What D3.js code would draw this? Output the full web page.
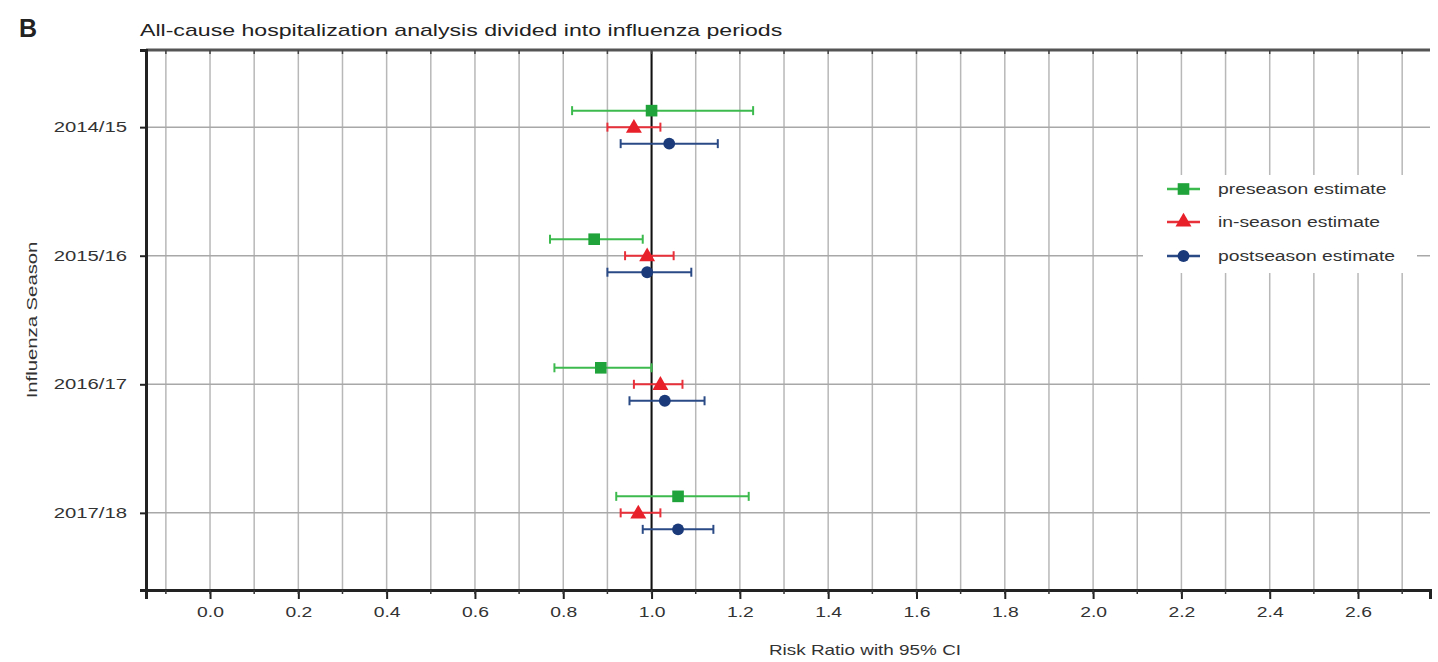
<!DOCTYPE html>
<html>
<head>
<meta charset="utf-8">
<script src="https://cdn.jsdelivr.net/npm/d3@7"></script>
<style>
  html, body { margin: 0; padding: 0; background: #fff; }
  svg { display: block; font-family: "Liberation Sans", Arial, sans-serif; }
</style>
</head>
<body>
<svg id="chart" width="1438" height="662"></svg>
<script>
// Influenza seasons (rows, top to bottom)
const seasons = ["2014/15", "2015/16", "2016/17", "2017/18"];

// Risk ratio point estimates and 95% CI per period
const preseasonEst = [1.00, 0.87, 0.885, 1.06];
const preseasonLo  = [0.82, 0.77, 0.78, 0.92];
const preseasonHi  = [1.23, 0.98, 1.00, 1.22];

const inseasonEst = [0.96, 0.99, 1.02, 0.97];
const inseasonLo  = [0.90, 0.94, 0.96, 0.93];
const inseasonHi  = [1.02, 1.05, 1.07, 1.02];

const postseasonEst = [1.04, 0.99, 1.03, 1.06];
const postseasonLo  = [0.93, 0.90, 0.95, 0.98];
const postseasonHi  = [1.15, 1.09, 1.12, 1.14];

const xTickLabels = ["0.0","0.2","0.4","0.6","0.8","1.0","1.2","1.4","1.6","1.8","2.0","2.2","2.4","2.6"];

const series = [
  { name: "preseason estimate",  est: preseasonEst,  lo: preseasonLo,  hi: preseasonHi,
    line: "#3dba4e", mark: "#1fa33a", shape: d3.symbolSquare,   size: 135, off: -16.5 },
  { name: "in-season estimate",  est: inseasonEst,   lo: inseasonLo,   hi: inseasonHi,
    line: "#e8303a", mark: "#e8202a", shape: d3.symbolTriangle, size: 110, off: 0 },
  { name: "postseason estimate", est: postseasonEst, lo: postseasonLo, hi: postseasonHi,
    line: "#2a4a86", mark: "#1a3a7a", shape: d3.symbolCircle,   size: 110, off: 16.5 }
];

// Wide-set lettering: stretch text along its baseline
function stretch(sel, k) {
  sel.each(function () {
    const t = d3.select(this);
    const x0 = +t.attr("x") || 0;
    const tr = t.attr("transform") || "";
    t.attr("x", x0 / k).attr("transform", `${tr} scale(${k},1)`);
  });
  return sel;
}

const svg = d3.select("#chart");
const L = 146, R = 1430, T = 50, B = 590;

const x = d3.scaleLinear().domain([-0.145, 2.763]).range([L, R]);
const y = d3.scaleLinear().domain([-0.6, 3.6]).range([T, B]);

// Grid: vertical lines every 0.1
const gridVals = d3.range(-1, 28).map(v => v / 10);
svg.append("g").selectAll("line").data(gridVals).join("line")
  .attr("x1", d => x(d)).attr("x2", d => x(d))
  .attr("y1", T).attr("y2", B)
  .attr("stroke", "#b8b8b8").attr("stroke-width", 1.5);

// Horizontal grid lines at each season
svg.append("g").selectAll("line").data(seasons).join("line")
  .attr("x1", L).attr("x2", R)
  .attr("y1", (d, i) => y(i)).attr("y2", (d, i) => y(i))
  .attr("stroke", "#a8a8a8").attr("stroke-width", 1.5);

// Reference line at RR = 1
svg.append("line")
  .attr("x1", x(1)).attr("x2", x(1)).attr("y1", T).attr("y2", B)
  .attr("stroke", "#111").attr("stroke-width", 2);

// Legend backdrop
const legend = svg.append("g");
legend.append("rect")
  .attr("x", 1143).attr("y", 175).attr("width", 274).attr("height", 98)
  .attr("fill", "#fff");

// Top frame with small inward ticks
svg.append("line").attr("x1", L).attr("x2", R).attr("y1", T).attr("y2", T)
  .attr("stroke", "#555").attr("stroke-width", 3);
svg.append("g").selectAll("line").data(gridVals).join("line")
  .attr("x1", d => x(d)).attr("x2", d => x(d)).attr("y1", T).attr("y2", T + 4)
  .attr("stroke", "#444").attr("stroke-width", 1.5);

// Bottom axis
const majorVals = xTickLabels.map(Number);
const xAxis = d3.axisBottom(x).tickValues(majorVals)
  .tickFormat((d, i) => xTickLabels[i]).tickSize(9).tickPadding(8);
const gx = svg.append("g").attr("transform", `translate(0,${B})`).call(xAxis);
gx.select(".domain").attr("stroke", "#222").attr("stroke-width", 3);
gx.selectAll(".tick line").attr("stroke", "#222").attr("stroke-width", 2);
stretch(gx.selectAll(".tick text").attr("font-size", 14).attr("fill", "#333")
  .attr("font-family", "Liberation Sans, Arial, sans-serif"), 1.38);
// minor ticks at 0.1
svg.append("g").selectAll("line").data(gridVals).join("line")
  .attr("x1", d => x(d)).attr("x2", d => x(d)).attr("y1", B).attr("y2", B + 4)
  .attr("stroke", "#333").attr("stroke-width", 1.5);

// Left axis
const yAxis = d3.axisLeft(y).tickValues(d3.range(seasons.length))
  .tickFormat(i => seasons[i]).tickSize(6).tickPadding(13);
const gy = svg.append("g").attr("transform", `translate(${L},0)`).call(yAxis);
gy.select(".domain").attr("stroke", "#222").attr("stroke-width", 3);
gy.selectAll(".tick line").attr("stroke", "#222").attr("stroke-width", 2);
stretch(gy.selectAll(".tick text").attr("font-size", 14).attr("fill", "#333")
  .attr("font-family", "Liberation Sans, Arial, sans-serif"), 1.45);

// Error bars and markers
const capH = 4.5;
series.forEach(s => {
  const g = svg.append("g");
  const rows = seasons.map((d, i) => ({ i, est: s.est[i], lo: s.lo[i], hi: s.hi[i] }));
  g.selectAll("line.ci").data(rows).join("line").attr("class", "ci")
    .attr("x1", d => x(d.lo)).attr("x2", d => x(d.hi))
    .attr("y1", d => y(d.i) + s.off).attr("y2", d => y(d.i) + s.off)
    .attr("stroke", s.line).attr("stroke-width", 2);
  ["lo", "hi"].forEach(k => {
    g.selectAll("line.cap-" + k).data(rows).join("line").attr("class", "cap-" + k)
      .attr("x1", d => x(d[k])).attr("x2", d => x(d[k]))
      .attr("y1", d => y(d.i) + s.off - capH).attr("y2", d => y(d.i) + s.off + capH)
      .attr("stroke", s.line).attr("stroke-width", 2);
  });
  g.selectAll("path").data(rows).join("path")
    .attr("transform", d => `translate(${x(d.est)},${y(d.i) + s.off + (s.shape === d3.symbolTriangle ? 1 : 0)})`)
    .attr("d", d3.symbol().type(s.shape).size(s.size))
    .attr("fill", s.mark);
});

// Legend entries
const legRows = [189, 222, 256];
series.forEach((s, k) => {
  const ly = legRows[k];
  legend.append("line").attr("x1", 1167).attr("x2", 1200).attr("y1", ly).attr("y2", ly)
    .attr("stroke", s.line).attr("stroke-width", 2.5);
  legend.append("path").attr("transform", `translate(1183.5,${ly})`)
    .attr("d", d3.symbol().type(s.shape).size(s.size)).attr("fill", s.mark);
  stretch(legend.append("text").attr("x", 1218).attr("y", ly).attr("dy", "0.35em")
    .attr("font-size", 14).attr("fill", "#333").text(s.name), 1.38);
});

// Titles and labels
svg.append("text").attr("x", 19).attr("y", 37).attr("font-size", 25)
  .attr("font-weight", "bold").attr("fill", "#222").text("B");
stretch(svg.append("text").attr("x", 140).attr("y", 36).attr("font-size", 17)
  .attr("fill", "#222").text("All-cause hospitalization analysis divided into influenza periods"), 1.36);
stretch(svg.append("text").attr("x", 865).attr("y", 655).attr("text-anchor", "middle")
  .attr("font-size", 14).attr("fill", "#333").text("Risk Ratio with 95% CI"), 1.35);
stretch(svg.append("text").attr("transform", `translate(37,${(T + B) / 2}) rotate(-90)`)
  .attr("text-anchor", "middle").attr("font-size", 14).attr("fill", "#333")
  .text("Influenza Season"), 1.45);
</script>
</body>
</html>
